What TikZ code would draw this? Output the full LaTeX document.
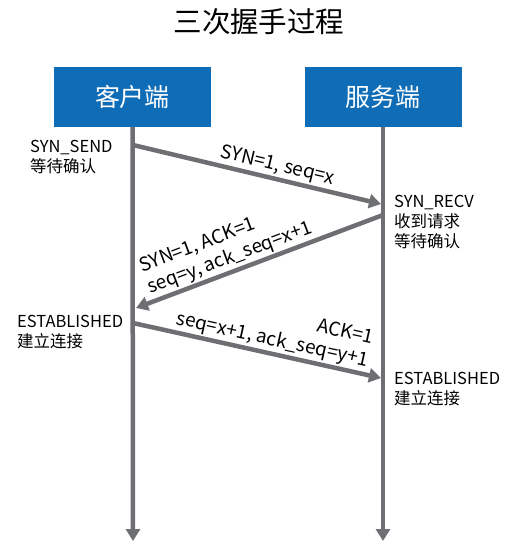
\documentclass[tikz,border=0pt]{standalone}
\usepackage{fontspec}
\setmainfont{Noto Sans CJK SC}
\usetikzlibrary{arrows.meta}
\definecolor{boxblue}{HTML}{0F6DB7}
\definecolor{lifegray}{HTML}{6E6F73}

\begin{document}
\begin{tikzpicture}[x=1pt,y=-1pt,
    party/.style={fill=boxblue,text=white,minimum width=157pt,minimum height=60pt,inner sep=0pt,font=\fontsize{25}{25}\selectfont},
    life/.style={draw=lifegray,line width=4.5pt,-{Triangle[length=12pt,width=14pt]}},
    state/.style={font=\fontsize{16.5}{20}\selectfont,align=left,inner sep=0pt,anchor=north west},
    lbl/.style={font=\fontsize{19}{23}\selectfont,sloped,above,inner sep=1.5pt}]
  \useasboundingbox (0,0) rectangle (518,550);
  \node[font=\fontsize{28.5}{28.5}\selectfont] (title) at (259,22) {三次握手过程};
  \draw
    (132.5,97) node[party] (client){客户端}
    (383,97) node[party] (server){服务端};
  % points on the two lifelines
  \coordinate (cend) at (133,541);
  \coordinate (send) at (383,541);
  \coordinate (c1) at (133,145);
  \coordinate (s1) at (381,204);
  \coordinate (s2) at (383,215);
  \coordinate (c2) at (136,308);
  \coordinate (c3) at (133,323);
  \coordinate (s3) at (381,378);
  \begin{scope}[life]
    \draw (client.south) -- (cend);
    \draw (server.south) -- (send);
    \draw (c1) to node[lbl,pos=0.57] {SYN=1, seq=x} (s1);
    \draw (s2) to node[lbl,pos=0.6,align=left] {SYN=1, ACK=1\\seq=y, ack\_seq=x+1} (c2);
    \draw (c3) to node[lbl,pos=0.55,align=right] {ACK=1\\seq=x+1, ack\_seq=y+1} (s3);
  \end{scope}
  \node[state] (sendst) at (30,140) {SYN\_SEND\\等待确认};
  \node[state] (recvst) at (394,195) {SYN\_RECV\\收到请求\\等待确认};
  \node[state] (estc) at (17,315) {ESTABLISHED\\建立连接};
  \node[state] (ests) at (394,372) {ESTABLISHED\\建立连接};
\end{tikzpicture}
\end{document}
